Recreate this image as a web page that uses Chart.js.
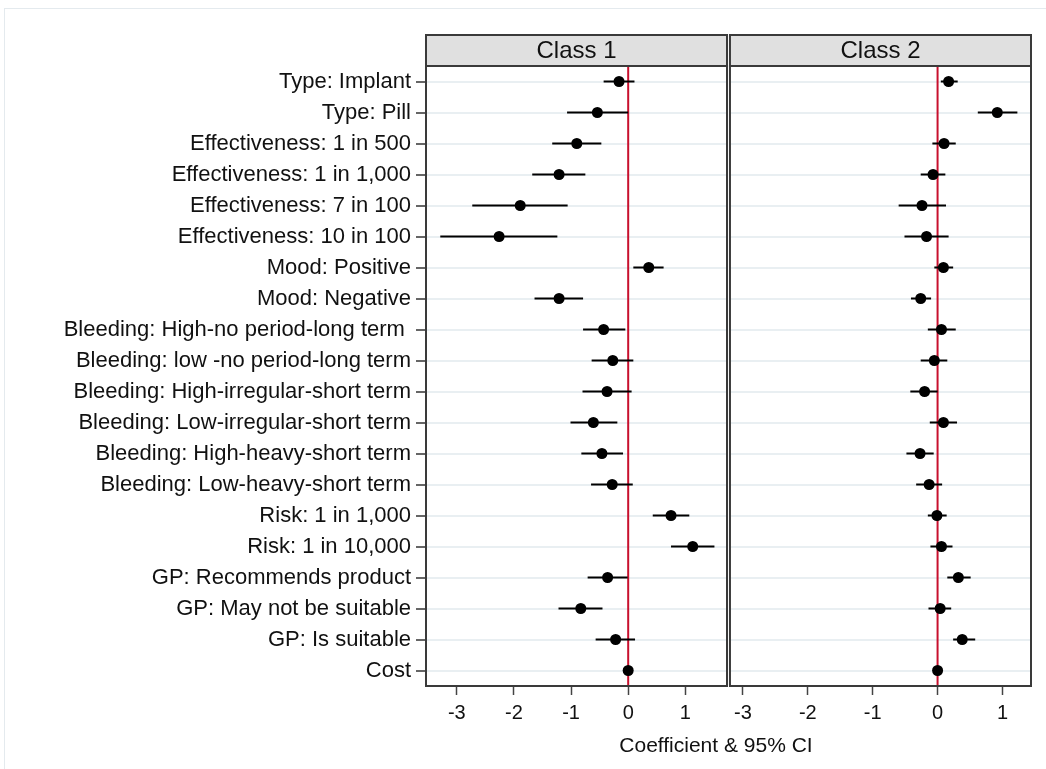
<!DOCTYPE html>
<html>
<head>
<meta charset="utf-8">
<script src="https://cdn.jsdelivr.net/npm/chart.js@4.4.1/dist/chart.umd.min.js"></script>
<style>
  body { margin: 0; background: #fff; font-family: "Liberation Sans", Arial, sans-serif; }
  #wrap { position: relative; width: 1046px; height: 769px; overflow: hidden; }
  #frame { position: absolute; left: 4px; top: 8px; width: 1100px; height: 800px; border: 1px solid #e4eaee; }
  #c1 { position: absolute; left: 0; top: 0; }
  #c2 { position: absolute; left: 728px; top: 0; }
  #xtitle { position: absolute; left: 566px; width: 300px; top: 734px; text-align: center;
            font-size: 21px; line-height: 21px; color: #111; }
</style>
</head>
<body>
<div id="wrap">
  <div id="frame"></div>
  <canvas id="c1" width="728" height="769"></canvas>
  <canvas id="c2" width="318" height="769"></canvas>
  <div id="xtitle">Coefficient &amp; 95% CI</div>
</div>
<script>
const categories = [
  "Type: Implant", "Type: Pill",
  "Effectiveness: 1 in 500", "Effectiveness: 1 in 1,000",
  "Effectiveness: 7 in 100", "Effectiveness: 10 in 100",
  "Mood: Positive", "Mood: Negative",
  "Bleeding: High-no period-long term ", "Bleeding: low -no period-long term",
  "Bleeding: High-irregular-short term", "Bleeding: Low-irregular-short term",
  "Bleeding: High-heavy-short term", "Bleeding: Low-heavy-short term",
  "Risk: 1 in 1,000", "Risk: 1 in 10,000",
  "GP: Recommends product", "GP: May not be suitable", "GP: Is suitable",
  "Cost"
];

// Class 1 coefficients and 95% CI
const est1 = [-0.16, -0.54, -0.90, -1.21, -1.89, -2.26, 0.36, -1.21, -0.43, -0.27, -0.37, -0.61, -0.46, -0.28, 0.75, 1.13, -0.36, -0.83, -0.22, 0];
const lo1  = [-0.43, -1.07, -1.33, -1.68, -2.73, -3.29, 0.09, -1.64, -0.79, -0.64, -0.80, -1.01, -0.82, -0.65, 0.43, 0.75, -0.71, -1.22, -0.57, 0];
const hi1  = [0.11, 0.00, -0.47, -0.75, -1.06, -1.24, 0.62, -0.79, -0.05, 0.09, 0.06, -0.19, -0.09, 0.08, 1.07, 1.51, -0.01, -0.45, 0.12, 0];

// Class 2 coefficients and 95% CI
const est2 = [0.17, 0.92, 0.10, -0.07, -0.24, -0.17, 0.09, -0.26, 0.06, -0.05, -0.20, 0.09, -0.27, -0.13, -0.01, 0.06, 0.32, 0.04, 0.38, 0];
const lo2  = [0.05, 0.62, -0.08, -0.26, -0.60, -0.51, -0.05, -0.41, -0.15, -0.26, -0.42, -0.12, -0.48, -0.33, -0.15, -0.11, 0.15, -0.14, 0.24, 0];
const hi2  = [0.31, 1.23, 0.28, 0.12, 0.13, 0.17, 0.24, -0.10, 0.28, 0.15, 0.00, 0.30, -0.06, 0.07, 0.14, 0.23, 0.51, 0.21, 0.58, 0];

const xTicks = [-3, -2, -1, 0, 1];
const range1 = [-3.54, 1.73];
const range2 = [-3.2, 1.44];

const FONT = "'Liberation Sans', Arial, sans-serif";

// zero line, frame and the grey header strip
const panelDecor = {
  id: "panelDecor",
  beforeDatasetsDraw(chart) {
    const { ctx, chartArea: a, scales: { x } } = chart;
    const zx = x.getPixelForValue(0);
    ctx.save();
    ctx.strokeStyle = "#c8102e";
    ctx.lineWidth = 2;
    ctx.beginPath();
    ctx.moveTo(zx, a.top);
    ctx.lineTo(zx, a.bottom);
    ctx.stroke();
    ctx.restore();
  },
  afterDraw(chart, args, opts) {
    const { ctx, chartArea: a } = chart;
    ctx.save();
    ctx.strokeStyle = "#3a3a3a";
    ctx.lineWidth = 2;
    ctx.strokeRect(a.left, a.top, a.right - a.left, a.bottom - a.top);
    // header strip
    const h = 31;
    ctx.fillStyle = "#e0e0e0";
    ctx.fillRect(a.left, a.top - h, a.right - a.left, h);
    ctx.strokeRect(a.left, a.top - h, a.right - a.left, h);
    ctx.fillStyle = "#111";
    ctx.font = "24px " + FONT;
    ctx.textAlign = "center";
    ctx.textBaseline = "middle";
    ctx.fillText(opts.title, (a.left + a.right) / 2, a.top - h / 2 + 1);
    ctx.restore();
  }
};

function makePanel(id, est, lo, hi, range, title, showLabels, padRight) {
  const points = est.map((v, i) => ({ x: v, y: categories[i] }));
  const ci = [];
  lo.forEach((v, i) => {
    ci.push({ x: v, y: categories[i] }, { x: hi[i], y: categories[i] }, { x: null, y: categories[i] });
  });

  return new Chart(document.getElementById(id), {
    type: "line",
    data: {
      labels: categories,
      datasets: [
        {
          label: "CI",
          data: ci,
          borderColor: "#000",
          borderWidth: 2,
          pointRadius: 0,
          spanGaps: false,
          showLine: true
        },
        {
          label: "Coefficient",
          data: points,
          showLine: false,
          pointRadius: 5.5,
          pointBackgroundColor: "#000",
          pointBorderColor: "#000",
          pointBorderWidth: 0
        }
      ]
    },
    options: {
      responsive: false,
      animation: false,
      layout: { autoPadding: false, padding: { top: 66, right: padRight, left: 0, bottom: 0 } },
      plugins: {
        legend: { display: false },
        tooltip: { enabled: false },
        panelDecor: { title: title }
      },
      scales: {
        x: {
          type: "linear",
          min: range[0],
          max: range[1],
          afterFit: s => { s.height = 83; },
          afterBuildTicks: s => { s.ticks = xTicks.map(v => ({ value: v })); },
          ticks: {
            includeBounds: false,
            color: "#111",
            padding: 6,
            maxRotation: 0,
            font: { family: FONT, size: 20 },
            callback: v => String(v)
          },
          grid: {
            drawOnChartArea: false,
            drawTicks: true,
            tickLength: 9,
            tickColor: "#444",
            tickWidth: 1.5
          },
          border: { display: false }
        },
        y: {
          type: "category",
          offset: true,
          afterFit: s => { s.width = showLabels ? 426 : 1; },
          ticks: {
            display: showLabels,
            autoSkip: false,
            color: "#111",
            padding: 5,
            font: { family: FONT, size: 22 }
          },
          grid: {
            color: "#e9eff2",
            lineWidth: 2,
            drawTicks: showLabels,
            tickLength: 10,
            tickColor: "#333",
            tickWidth: 1.5
          },
          border: { display: false }
        }
      }
    },
    plugins: [panelDecor]
  });
}

makePanel("c1", est1, lo1, hi1, range1, "Class 1", true, 1);
makePanel("c2", est2, lo2, hi2, range2, "Class 2", false, 15);
</script>
</body>
</html>
